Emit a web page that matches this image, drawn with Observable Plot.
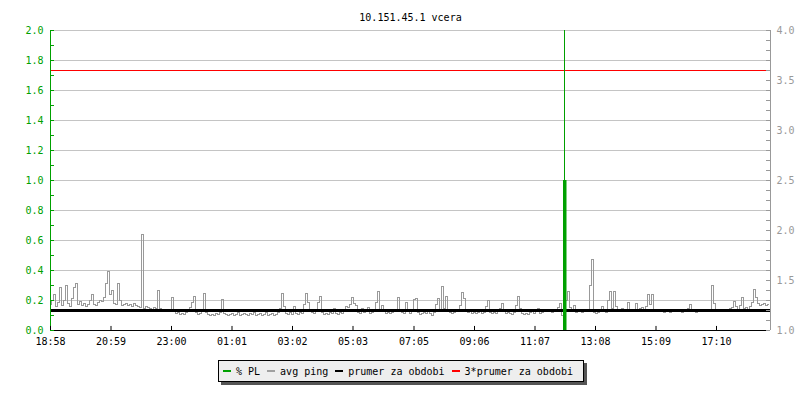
<!DOCTYPE html>
<html><head><meta charset="utf-8">
<script src="https://cdn.jsdelivr.net/npm/d3@7"></script>
<script src="https://cdn.jsdelivr.net/npm/@observablehq/plot@0.6"></script>
<style>
body{margin:0;background:#fff;}
#wrap{position:relative;width:800px;height:400px;font-family:"DejaVu Sans Mono",monospace;}
#wrap svg{position:absolute;left:0;top:0;}
#legend{position:absolute;left:218px;top:360px;width:360px;height:20px;background:#eeeeee;border:1px solid #000;box-shadow:3px 3px 0 #555;display:flex;align-items:center;font-size:10px;color:#000;padding-left:4px;box-sizing:content-box;}
#legend .sw{display:inline-block;width:8px;height:2px;margin-right:5px;}
#legend .lb{margin-right:7px;white-space:pre;}
</style></head>
<body><div id="wrap"></div>
<script>
const title = "10.151.45.1 vcera";
const tickLabels = ["18:58","20:59","23:00","01:01","03:02","05:03","07:05","09:06","11:07","13:08","15:09","17:10"];
const sampleMinutes = 4;
const pingValues = [
1.26,1.30,1.36,1.24,1.28,1.43,1.25,1.30,1.45,1.27,
1.24,1.32,1.43,1.47,1.26,1.29,1.25,1.27,1.24,1.26,
1.30,1.36,1.26,1.25,1.28,1.30,1.29,1.33,1.47,1.59,
1.36,1.40,1.27,1.26,1.47,1.30,1.25,1.26,1.27,1.25,
1.26,1.24,1.27,1.25,1.24,1.23,1.96,1.22,1.24,1.23,
1.22,1.21,1.23,1.22,1.40,1.22,1.21,1.20,1.21,1.19,
1.20,1.33,1.19,1.17,1.18,1.16,1.17,1.16,1.18,1.21,
1.23,1.28,1.34,1.18,1.16,1.17,1.20,1.37,1.18,1.16,
1.15,1.16,1.15,1.17,1.16,1.18,1.31,1.17,1.16,1.15,
1.16,1.17,1.15,1.16,1.18,1.15,1.16,1.17,1.16,1.15,
1.17,1.16,1.18,1.15,1.16,1.17,1.15,1.16,1.18,1.15,
1.16,1.17,1.15,1.16,1.18,1.22,1.37,1.24,1.17,1.16,
1.18,1.16,1.24,1.17,1.16,1.18,1.17,1.26,1.37,1.28,
1.19,1.18,1.17,1.19,1.28,1.34,1.18,1.16,1.17,1.16,
1.18,1.17,1.22,1.17,1.16,1.18,1.17,1.19,1.24,1.23,
1.26,1.33,1.27,1.25,1.18,1.17,1.22,1.18,1.19,1.23,
1.17,1.18,1.19,1.28,1.39,1.21,1.25,1.19,1.17,1.18,
1.17,1.18,1.19,1.20,1.33,1.20,1.18,1.17,1.28,1.19,
1.17,1.19,1.31,1.32,1.18,1.16,1.17,1.18,1.17,1.19,
1.17,1.15,1.18,1.26,1.32,1.21,1.44,1.22,1.34,1.20,
1.18,1.17,1.18,1.19,1.20,1.25,1.38,1.32,1.20,1.18,
1.19,1.17,1.18,1.17,1.18,1.21,1.17,1.18,1.24,1.30,
1.18,1.17,1.18,1.17,1.19,1.22,1.27,1.19,1.17,1.18,
1.17,1.16,1.18,1.25,1.34,1.22,1.17,1.16,1.17,1.16,
1.18,1.21,1.17,1.19,1.22,1.17,1.18,1.19,1.21,1.20,
1.21,1.18,1.21,1.19,1.23,1.27,1.15,1.16,1.30,1.39,
1.23,1.19,1.25,1.18,1.20,1.19,1.18,1.19,1.20,1.19,
1.45,1.71,1.18,1.17,1.18,1.19,1.24,1.20,1.18,1.30,
1.39,1.22,1.39,1.24,1.20,1.19,1.22,1.21,1.19,1.28,
1.20,1.19,1.21,1.27,1.20,1.22,1.23,1.20,1.24,1.36,
1.26,1.36,1.20,1.19,1.20,1.21,1.19,1.18,1.20,1.19,
1.18,1.20,1.19,1.20,1.19,1.21,1.18,1.20,1.19,1.22,
1.26,1.20,1.19,1.18,1.20,1.19,1.21,1.20,1.19,1.20,
1.21,1.45,1.27,1.20,1.19,1.20,1.19,1.20,1.21,1.20,
1.22,1.23,1.29,1.24,1.21,1.25,1.33,1.22,1.23,1.21,
1.24,1.28,1.41,1.33,1.27,1.25,1.26,1.27,1.25,1.26
];
const avgPing = 1.2;
const avgPing3 = 3.6;
const plStart = [1026, 1028];
const plEnd = [1033, 1030];
const plValue = [1.0, 2.0];
const leftTicks = [0,0.2,0.4,0.6,0.8,1.0,1.2,1.4,1.6,1.8,2.0];
const rightTicks = [1.0,1.5,2.0,2.5,3.0,3.5,4.0];
const legendLabels = ["% PL","avg ping","prumer za obdobi","3*prumer za obdobi"];
const legendColors = ["#00a000","#a0a0a0","#000000","#ff0000"];

const GREEN = "#00a000";
const GRAY = "#999999";
const toLeft = v => (v - 1) * 2 / 3;
const fromLeft = y => 1 + y * 1.5;
const startMin = 18 * 60 + 58;
const tickPos = tickLabels.map(s => { const [h, m] = s.split(":").map(Number); return ((h * 60 + m) - startMin + 1440) % 1440; });
const ping = pingValues.map((v, i) => ({t: i * sampleMinutes, v: toLeft(v)}));
const pl = plValue.map((v, i) => ({x1: plStart[i], x2: plEnd[i], v}));
const leftMinor = d3.range(0, 21).map(k => k / 10);
const rightMinor = d3.range(10, 41).map(k => toLeft(k / 10));
const gridLines = leftTicks.filter(d => d > 0);

const chart = Plot.plot({
  width: 800, height: 400,
  marginTop: 30, marginBottom: 70, marginLeft: 50, marginRight: 30,
  x: {type: "linear", domain: [0, 1440], axis: null},
  y: {domain: [0, 2], axis: null},
  style: {fontFamily: "DejaVu Sans Mono", fontSize: "10px", background: "transparent", overflow: "visible"},
  marks: [
    Plot.ruleY(gridLines, {stroke: "#c4c4c4", strokeWidth: 1}),
    Plot.line(ping, {x: "t", y: "v", stroke: GRAY, strokeWidth: 1, curve: "step", clip: true, shapeRendering: "crispEdges"}),
    Plot.ruleY([toLeft(avgPing)], {stroke: "#000", strokeWidth: 3}),
    Plot.ruleY([toLeft(avgPing3)], {stroke: "#ff0000", strokeWidth: 1}),
    Plot.rectY(pl, {x1: "x1", x2: "x2", y1: 0, y2: "v", fill: GREEN, clip: true}),
    Plot.ruleY([0], {stroke: "#000"}),
    Plot.ruleX([0], {stroke: GREEN}),
    Plot.ruleX([1440], {stroke: GRAY}),
    Plot.ruleY(leftMinor, {x1: 0, x2: 8, stroke: GREEN}),
    Plot.ruleY(rightMinor, {x1: 1432, x2: 1440, stroke: GRAY}),
    Plot.ruleX(tickPos, {y1: 0, y2: 0.027, stroke: "#000"}),
    Plot.axisY(leftTicks, {anchor: "left", label: null, tickSize: 0, tickPadding: 7, tickFormat: d => d.toFixed(1), fill: GREEN}),
    Plot.axisY(rightTicks.map(toLeft), {anchor: "right", label: null, tickSize: 0, tickPadding: 6, tickFormat: d => fromLeft(d).toFixed(1), fill: GRAY}),
    Plot.axisX(tickPos, {anchor: "bottom", label: null, tickSize: 0, tickPadding: 7, tickFormat: (d, i) => tickLabels[i], fill: "#000"}),
    Plot.text([title], {frameAnchor: "top", dy: -17, fill: "#000", fontSize: 10})
  ]
});
const wrap = document.getElementById("wrap");
wrap.appendChild(chart);
const legend = document.createElement("div");
legend.id = "legend";
legendLabels.forEach((lab, i) => {
  const sw = document.createElement("span"); sw.className = "sw"; sw.style.background = legendColors[i];
  const lb = document.createElement("span"); lb.className = "lb"; lb.textContent = lab;
  legend.appendChild(sw); legend.appendChild(lb);
});
wrap.appendChild(legend);
</script>
</body></html>
